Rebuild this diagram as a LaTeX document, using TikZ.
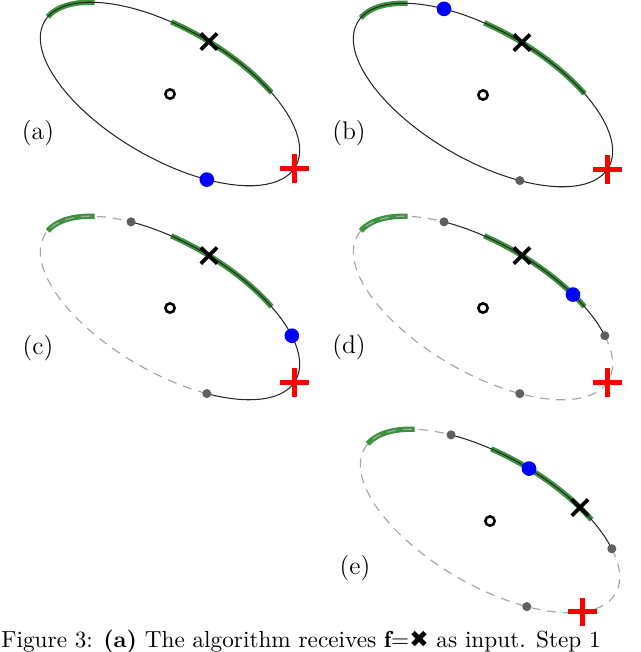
\documentclass[tikz,border=0pt]{standalone}
\usepackage{fontspec}
\newfontfamily\dingfont{DejaVu Sans}
\usetikzlibrary{shapes.misc}
\definecolor{arcgreen}{RGB}{60,145,60}
\definecolor{dotgray}{RGB}{95,95,95}

\begin{document}
\begin{tikzpicture}[x=0.43pt, y=-0.43pt,
    orbit/.style={black!85, line width=0.45pt},
    faded/.style={black!35, line width=0.5pt, dash pattern=on 3.9pt off 3pt},
    band/.style={arcgreen, line width=2.3pt},
    query/.style={cross out, draw=black, line width=1.6pt, minimum size=5.4pt, inner sep=0pt},
    target/.style={cross out, draw=red, line width=2.1pt, minimum size=6.6pt, inner sep=0pt, rotate=45},
    probe/.style={circle, fill=blue, minimum size=6.3pt, inner sep=0pt},
    visited/.style={circle, fill=dotgray, minimum size=3.9pt, inner sep=0pt},
    hub/.style={circle, draw=black, line width=1.1pt, minimum size=4pt, inner sep=0pt},
    panellabel/.style={font=\fontsize{11}{13}\selectfont}]

\useasboundingbox (0,0) rectangle (640,652);
\clip (0,0) rectangle (640,652);

% (a) first step
\begin{scope}[shift={(170,94)}, rotate=-30]
  \draw[band] plot[domain=-175:-140, samples=20] ({145*cos(\x)}, {65*sin(\x)});
  \draw[band] plot[domain=-104:-53, samples=25] ({145*cos(\x)}, {65*sin(\x)});
  \draw[orbit] plot[domain=0:360, samples=91] ({145*cos(\x)}, {65*sin(\x)});
  \coordinate (a-o) at (0,0);
  \coordinate (a-f) at (-87:145 and 65);
  \coordinate (a-r) at (2:145 and 65);
  \coordinate (a-p) at (59:145 and 65);
\end{scope}
\node[hub] (a-hub) at (a-o) {};
\node[query] (a-query) at (a-f) {};
\node[target] (a-target) at (a-r) {};
\node[probe] (a-probe) at (a-p) {};
\node[panellabel] (a-label) at (38,133) {(a)};

% (b) opposite point
\begin{scope}[shift={(483,95)}, rotate=-30]
  \draw[band] plot[domain=-175:-140, samples=20] ({145*cos(\x)}, {65*sin(\x)});
  \draw[band] plot[domain=-104:-53, samples=25] ({145*cos(\x)}, {65*sin(\x)});
  \draw[orbit] plot[domain=0:360, samples=91] ({145*cos(\x)}, {65*sin(\x)});
  \coordinate (b-o) at (0,0);
  \coordinate (b-f) at (-87:145 and 65);
  \coordinate (b-r) at (2:145 and 65);
  \coordinate (b-p) at (-122:145 and 65);
  \coordinate (b-v1) at (59:145 and 65);
\end{scope}
\node[hub] (b-hub) at (b-o) {};
\node[visited] (b-dot1) at (b-v1) {};
\node[query] (b-query) at (b-f) {};
\node[target] (b-target) at (b-r) {};
\node[probe] (b-probe) at (b-p) {};
\node[panellabel] (b-label) at (349,133) {(b)};

% (c) half of the ellipse dropped
\begin{scope}[shift={(170,308)}, rotate=-30]
  \draw[band] plot[domain=-175:-140, samples=20] ({145*cos(\x)}, {65*sin(\x)});
  \draw[band] plot[domain=-104:-53, samples=25] ({145*cos(\x)}, {65*sin(\x)});
  \draw[orbit] plot[domain=-122:59, samples=46] ({145*cos(\x)}, {65*sin(\x)});
  \draw[faded] plot[domain=59:238, samples=46] ({145*cos(\x)}, {65*sin(\x)});
  \coordinate (c-o) at (0,0);
  \coordinate (c-f) at (-87:145 and 65);
  \coordinate (c-r) at (2:145 and 65);
  \coordinate (c-p) at (-34.6:145 and 65);
  \coordinate (c-v1) at (-122:145 and 65);
  \coordinate (c-v2) at (59:145 and 65);
\end{scope}
\node[hub] (c-hub) at (c-o) {};
\node[visited] (c-dot1) at (c-v1) {};
\node[visited] (c-dot2) at (c-v2) {};
\node[query] (c-query) at (c-f) {};
\node[target] (c-target) at (c-r) {};
\node[probe] (c-probe) at (c-p) {};
\node[panellabel] (c-label) at (38,348) {(c)};

% (d) quarter left
\begin{scope}[shift={(483,308)}, rotate=-30]
  \draw[band] plot[domain=-175:-140, samples=20] ({145*cos(\x)}, {65*sin(\x)});
  \draw[band] plot[domain=-104:-53, samples=25] ({145*cos(\x)}, {65*sin(\x)});
  \draw[orbit] plot[domain=-122:-34.6, samples=24] ({145*cos(\x)}, {65*sin(\x)});
  \draw[faded] plot[domain=-34.6:238, samples=70] ({145*cos(\x)}, {65*sin(\x)});
  \coordinate (d-o) at (0,0);
  \coordinate (d-f) at (-87:145 and 65);
  \coordinate (d-r) at (2:145 and 65);
  \coordinate (d-p) at (-60.6:145 and 65);
  \coordinate (d-v1) at (-122:145 and 65);
  \coordinate (d-v2) at (-34.6:145 and 65);
  \coordinate (d-v3) at (59:145 and 65);
\end{scope}
\node[hub] (d-hub) at (d-o) {};
\node[visited] (d-dot1) at (d-v1) {};
\node[visited] (d-dot2) at (d-v2) {};
\node[visited] (d-dot3) at (d-v3) {};
\node[query] (d-query) at (d-f) {};
\node[target] (d-target) at (d-r) {};
\node[probe] (d-probe) at (d-p) {};
\node[panellabel] (d-label) at (349,347) {(d)};

% (e) next query
\begin{scope}[shift={(490,521)}, rotate=-30]
  \draw[band] plot[domain=-175:-140, samples=20] ({145*cos(\x)}, {65*sin(\x)});
  \draw[band] plot[domain=-104:-53, samples=25] ({145*cos(\x)}, {65*sin(\x)});
  \draw[orbit] plot[domain=-122:-34.6, samples=24] ({145*cos(\x)}, {65*sin(\x)});
  \draw[faded] plot[domain=-34.6:238, samples=70] ({145*cos(\x)}, {65*sin(\x)});
  \coordinate (e-o) at (0,0);
  \coordinate (e-f) at (-60.6:145 and 65);
  \coordinate (e-r) at (30:145 and 65);
  \coordinate (e-p) at (-87:145 and 65);
  \coordinate (e-v1) at (-122:145 and 65);
  \coordinate (e-v2) at (-34.6:145 and 65);
  \coordinate (e-v3) at (59:145 and 65);
\end{scope}
\node[hub] (e-hub) at (e-o) {};
\node[visited] (e-dot1) at (e-v1) {};
\node[visited] (e-dot2) at (e-v2) {};
\node[visited] (e-dot3) at (e-v3) {};
\node[query] (e-query) at (e-f) {};
\node[target] (e-target) at (e-r) {};
\node[probe] (e-probe) at (e-p) {};
\node[panellabel] (e-label) at (355,568) {(e)};

% caption
\node[anchor=base west, inner sep=0pt] (caption) at (1,647)
  {Figure 3: \textbf{(a)} The algorithm receives $\mathbf{f}$={\dingfont ✖} as input. Step 1};
\end{tikzpicture}
\end{document}
